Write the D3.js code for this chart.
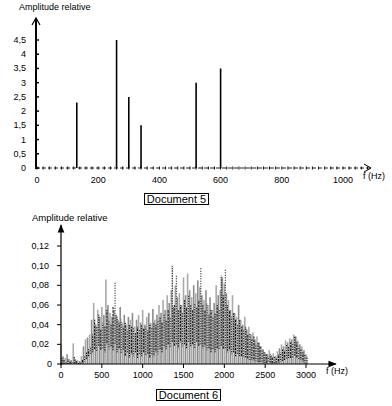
<!DOCTYPE html>
<html>
<head>
<meta charset="utf-8">
<script src="https://cdn.jsdelivr.net/npm/d3@7/dist/d3.min.js"></script>
<style>
  body { margin: 0; background: #fff; }
  svg { display: block; font-family: "Liberation Sans", Arial, sans-serif; }
</style>
</head>
<body>
<script>
// Document 5 : spectre discret
const freq5 = [130, 260, 300, 340, 520, 600];
const amp5 = [2.3, 4.5, 2.5, 1.5, 3.0, 3.5];
const xTicks5 = [0, 200, 400, 600, 800, 1000];
const yTicks5 = [0, 0.5, 1, 1.5, 2, 2.5, 3, 3.5, 4, 4.5];

// Document 6 : spectre continu, pas de 25 Hz (0 -> 3000 Hz)
const step6 = 25;
const grayPeak = [
  .020,.008,.006,.010,.005,.004,.021,.005,.004,.003,.008,.018,.025,.027,.030,.045,.062,.040,.055,.048,
  .058,.050,.086,.060,.052,.048,.055,.050,.045,.058,.042,.050,.040,.048,.045,.052,.038,.045,.050,.042,
  .055,.040,.048,.052,.042,.056,.045,.050,.060,.052,.065,.055,.070,.062,.075,.058,.080,.068,.072,.060,
  .088,.070,.092,.075,.068,.080,.072,.085,.078,.070,.065,.075,.060,.068,.055,.062,.080,.070,.075,.088,
  .082,.072,.065,.055,.070,.052,.048,.060,.045,.040,.048,.035,.038,.030,.032,.025,.028,.022,.018,.015,
  .012,.010,.014,.009,.011,.008,.013,.016,.020,.018,.024,.022,.026,.025,.030,.028,.024,.020,.018,.014,
  .010];
const blackPeak = [
  .006,.004,.003,.005,.003,.002,.008,.003,.002,.002,.004,.008,.012,.015,.018,.030,.045,.038,.050,.035,
  .042,.038,.055,.045,.040,.058,.083,.048,.042,.045,.038,.042,.035,.040,.038,.036,.032,.038,.035,.040,
  .036,.038,.034,.040,.038,.042,.040,.045,.048,.042,.050,.045,.055,.048,.100,.060,.090,.055,.060,.052,
  .065,.058,.070,.060,.055,.062,.058,.065,.099,.060,.055,.062,.050,.055,.048,.052,.060,.055,.090,.070,
  .096,.060,.055,.048,.052,.045,.040,.045,.038,.035,.038,.030,.032,.025,.028,.020,.022,.018,.014,.012,
  .010,.008,.010,.007,.008,.006,.010,.012,.015,.014,.020,.018,.022,.020,.028,.022,.018,.015,.012,.010,
  .008];
const blackBase = [
  0,0,0,0,0,0,0,0,0,0,0,.002,.005,.008,.010,.012,.015,.012,.018,.014,
  .016,.012,.020,.015,.018,.014,.020,.012,.016,.010,.014,.008,.012,.006,.010,.008,.012,.006,.010,.008,
  .012,.008,.010,.006,.010,.008,.012,.010,.015,.012,.018,.015,.020,.016,.022,.018,.020,.016,.022,.018,
  .020,.016,.022,.018,.020,.015,.022,.018,.020,.016,.018,.014,.016,.012,.015,.012,.016,.014,.018,.015,
  .016,.012,.014,.010,.012,.008,.010,.008,.008,.006,.006,.005,.004,.004,.003,.003,.002,.002,.002,.001,
  .001,.001,.001,0,.001,0,.001,.002,.003,.004,.005,.006,.006,.005,.008,.006,.005,.004,.002,.001,
  0];
const xTicks6 = [0, 500, 1000, 1500, 2000, 2500, 3000];
const yTicks6 = [0, 0.02, 0.04, 0.06, 0.08, 0.10, 0.12];

const fmt = d => d === 0 ? '0' : String(d).replace('.', ',');
const fmt2 = d => d === 0 ? '0' : d3.format('.2f')(d).replace('.', ',');

const svg = d3.select('body').append('svg')
    .attr('width', 392)
    .attr('height', 406);

svg.append('defs').append('marker')
    .attr('id', 'tri')
    .attr('viewBox', '0 0 10 10')
    .attr('refX', 9).attr('refY', 5)
    .attr('markerWidth', 7).attr('markerHeight', 7)
    .attr('orient', 'auto')
  .append('path')
    .attr('d', 'M0,1 L10,5 L0,9 Z')
    .attr('fill', '#000');

/* ---------- Document 5 ---------- */
const x5 = d3.scaleLinear().domain([0, 1000]).range([37, 343]);
const y5 = d3.scaleLinear().domain([0, 4.5]).range([168, 40]);
const g5 = svg.append('g');

// minor ticks along the axis (dotted look)
g5.selectAll('.minor')
    .data(d3.range(0, 1100, 20))
    .enter().append('line')
    .attr('x1', d => x5(d)).attr('x2', d => x5(d))
    .attr('y1', 166.5).attr('y2', 169.5)
    .attr('stroke', '#000').attr('stroke-width', 1);

g5.append('line')
    .attr('x1', 36).attr('x2', 371).attr('y1', 168).attr('y2', 168)
    .attr('stroke', '#222').attr('stroke-width', 1)
    .attr('stroke-dasharray', '4,2');
g5.append('path')
    .attr('d', 'M364,164 L371,168 L364,172')
    .attr('fill', 'none').attr('stroke', '#000').attr('stroke-width', 1);

g5.append('line')
    .attr('x1', 36).attr('x2', 36).attr('y1', 169).attr('y2', 18)
    .attr('stroke', '#000').attr('stroke-width', 2);
g5.append('path')
    .attr('d', 'M32,25 L36,18 L40,25')
    .attr('fill', 'none').attr('stroke', '#000').attr('stroke-width', 1.2);

g5.selectAll('.ytick')
    .data(yTicks5)
    .enter().append('line')
    .attr('x1', 36).attr('x2', 39)
    .attr('y1', d => y5(d)).attr('y2', d => y5(d))
    .attr('stroke', '#000').attr('stroke-width', 1.5);

g5.selectAll('.ylab')
    .data(yTicks5)
    .enter().append('text')
    .attr('x', 26).attr('y', d => y5(d) + 3)
    .attr('text-anchor', 'end')
    .attr('font-size', 9)
    .text(fmt);

g5.selectAll('.xlab')
    .data(xTicks5)
    .enter().append('text')
    .attr('x', d => x5(d)).attr('y', 183)
    .attr('text-anchor', 'middle')
    .attr('font-size', 9)
    .text(d => d);

g5.selectAll('.spike')
    .data(freq5)
    .enter().append('line')
    .attr('x1', d => x5(d)).attr('x2', d => x5(d))
    .attr('y1', y5(0))
    .attr('y2', (d, i) => y5(amp5[i]))
    .attr('stroke', '#000').attr('stroke-width', 1.6);

g5.append('text').attr('x', 19).attr('y', 10).attr('font-size', 9)
    .text('Amplitude relative');
g5.append('text').attr('x', 363).attr('y', 179).attr('font-size', 9)
    .text('f (Hz)');

g5.append('rect').attr('x', 144.5).attr('y', 193.5).attr('width', 64).attr('height', 11)
    .attr('fill', 'none').attr('stroke', '#000').attr('stroke-width', 1);
g5.append('text').attr('x', 176.5).attr('y', 203).attr('text-anchor', 'middle')
    .attr('font-size', 11).text('Document 5');

/* ---------- Document 6 ---------- */
const x6 = d3.scaleLinear().domain([0, 3000]).range([61, 306]);
const y6 = d3.scaleLinear().domain([0, 0.12]).range([364, 246]);
const g6 = svg.append('g');
const freq6 = grayPeak.map((d, i) => i * step6);

g6.selectAll('.gray')
    .data(freq6)
    .enter().append('line')
    .attr('x1', d => x6(d)).attr('x2', d => x6(d))
    .attr('y1', y6(0))
    .attr('y2', (d, i) => y6(grayPeak[i]))
    .attr('stroke', (d, i) => i % 2 ? '#8c8c8c' : '#aaaaaa')
    .attr('stroke-width', 1.6);

g6.selectAll('.black')
    .data(freq6)
    .enter().append('line')
    .attr('x1', d => x6(d) + 1).attr('x2', d => x6(d) + 1)
    .attr('y1', (d, i) => y6(blackBase[i]))
    .attr('y2', (d, i) => y6(blackPeak[i]))
    .attr('stroke', '#111').attr('stroke-width', 1.1)
    .attr('stroke-dasharray', (d, i) => i % 3 === 0 ? '1.5,1' : (i % 3 === 1 ? '2.5,1' : '1,1.5'))
    .attr('stroke-dashoffset', (d, i) => i % 4);

g6.append('line')
    .attr('x1', 61).attr('x2', 61).attr('y1', 365).attr('y2', 225)
    .attr('stroke', '#000').attr('stroke-width', 1.2)
    .attr('marker-end', 'url(#tri)');
g6.append('line')
    .attr('x1', 60).attr('x2', 336).attr('y1', 364).attr('y2', 364)
    .attr('stroke', '#000').attr('stroke-width', 1.2)
    .attr('marker-end', 'url(#tri)');

g6.selectAll('.ytick')
    .data(yTicks6)
    .enter().append('line')
    .attr('x1', 57).attr('x2', 61)
    .attr('y1', d => y6(d)).attr('y2', d => y6(d))
    .attr('stroke', '#000').attr('stroke-width', 1);
g6.selectAll('.xtick')
    .data(xTicks6)
    .enter().append('line')
    .attr('x1', d => x6(d)).attr('x2', d => x6(d))
    .attr('y1', 364).attr('y2', 368)
    .attr('stroke', '#000').attr('stroke-width', 1);

g6.selectAll('.ylab')
    .data(yTicks6)
    .enter().append('text')
    .attr('x', d => d === 0 ? 52 : 49).attr('y', d => y6(d) + 3)
    .attr('text-anchor', 'end')
    .attr('font-size', 9)
    .text(fmt2);

g6.selectAll('.xlab')
    .data(xTicks6)
    .enter().append('text')
    .attr('x', d => x6(d)).attr('y', 378)
    .attr('text-anchor', 'middle')
    .attr('font-size', 9)
    .text(d => d);

g6.append('text').attr('x', 32).attr('y', 221).attr('font-size', 9.5)
    .text('Amplitude relative');
g6.append('text').attr('x', 326).attr('y', 374).attr('font-size', 9)
    .text('f (Hz)');

g6.append('rect').attr('x', 156.5).attr('y', 389.5).attr('width', 64).attr('height', 11)
    .attr('fill', 'none').attr('stroke', '#000').attr('stroke-width', 1);
g6.append('text').attr('x', 188.5).attr('y', 399).attr('text-anchor', 'middle')
    .attr('font-size', 11).text('Document 6');
</script>
</body>
</html>
